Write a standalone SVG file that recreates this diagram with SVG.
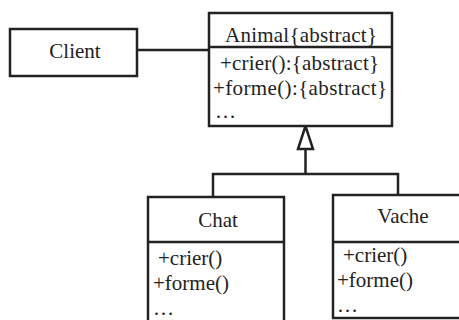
<svg xmlns="http://www.w3.org/2000/svg" width="459" height="320" viewBox="0 0 459 320">
<style>
.box{fill:#fff;stroke:#222;stroke-width:2.5}
.ln{fill:none;stroke:#222;stroke-width:2.5}
text{font-family:'Liberation Serif','DejaVu Serif',serif;font-size:21px;fill:#222}
.c{text-anchor:middle}
</style>
<rect width="459" height="320" fill="#fff"/>
<g id="connectors">
<line class="ln" x1="137" y1="50" x2="209" y2="50"/>
<polyline class="ln" points="213,197 213,174 398,174 398,196"/>
<line class="ln" x1="305.5" y1="149" x2="305.5" y2="174"/>
<polygon class="ln" points="305.5,126 298,149 313,149" style="fill:#fff"/>
</g>
<g id="client">
<rect class="box" x="10" y="29" width="127" height="47"/>
<text class="c" x="75" y="58">Client</text>
</g>
<g id="animal">
<rect class="box" x="209" y="13" width="183" height="113"/>
<line class="ln" x1="209" y1="47" x2="392" y2="47"/>
<text class="c" x="301" y="42" textLength="152">Animal{abstract}</text>
<text x="220" y="70" textLength="159">+crier():{abstract}</text>
<text x="213" y="95" textLength="174">+forme():{abstract}</text>
<text x="215" y="118">…</text>
</g>
<g id="chat">
<rect class="box" x="148" y="197" width="136" height="130"/>
<line class="ln" x1="148" y1="242" x2="284" y2="242"/>
<text class="c" x="218" y="227">Chat</text>
<text x="158" y="265">+crier()</text>
<text x="153" y="290">+forme()</text>
<text x="153" y="315">…</text>
</g>
<g id="vache">
<rect class="box" x="333" y="195" width="135" height="123"/>
<line class="ln" x1="333" y1="242" x2="468" y2="242"/>
<text class="c" x="403" y="223">Vache</text>
<text x="343" y="262">+crier()</text>
<text x="337" y="287">+forme()</text>
<text x="337" y="312">…</text>
</g>
</svg>
